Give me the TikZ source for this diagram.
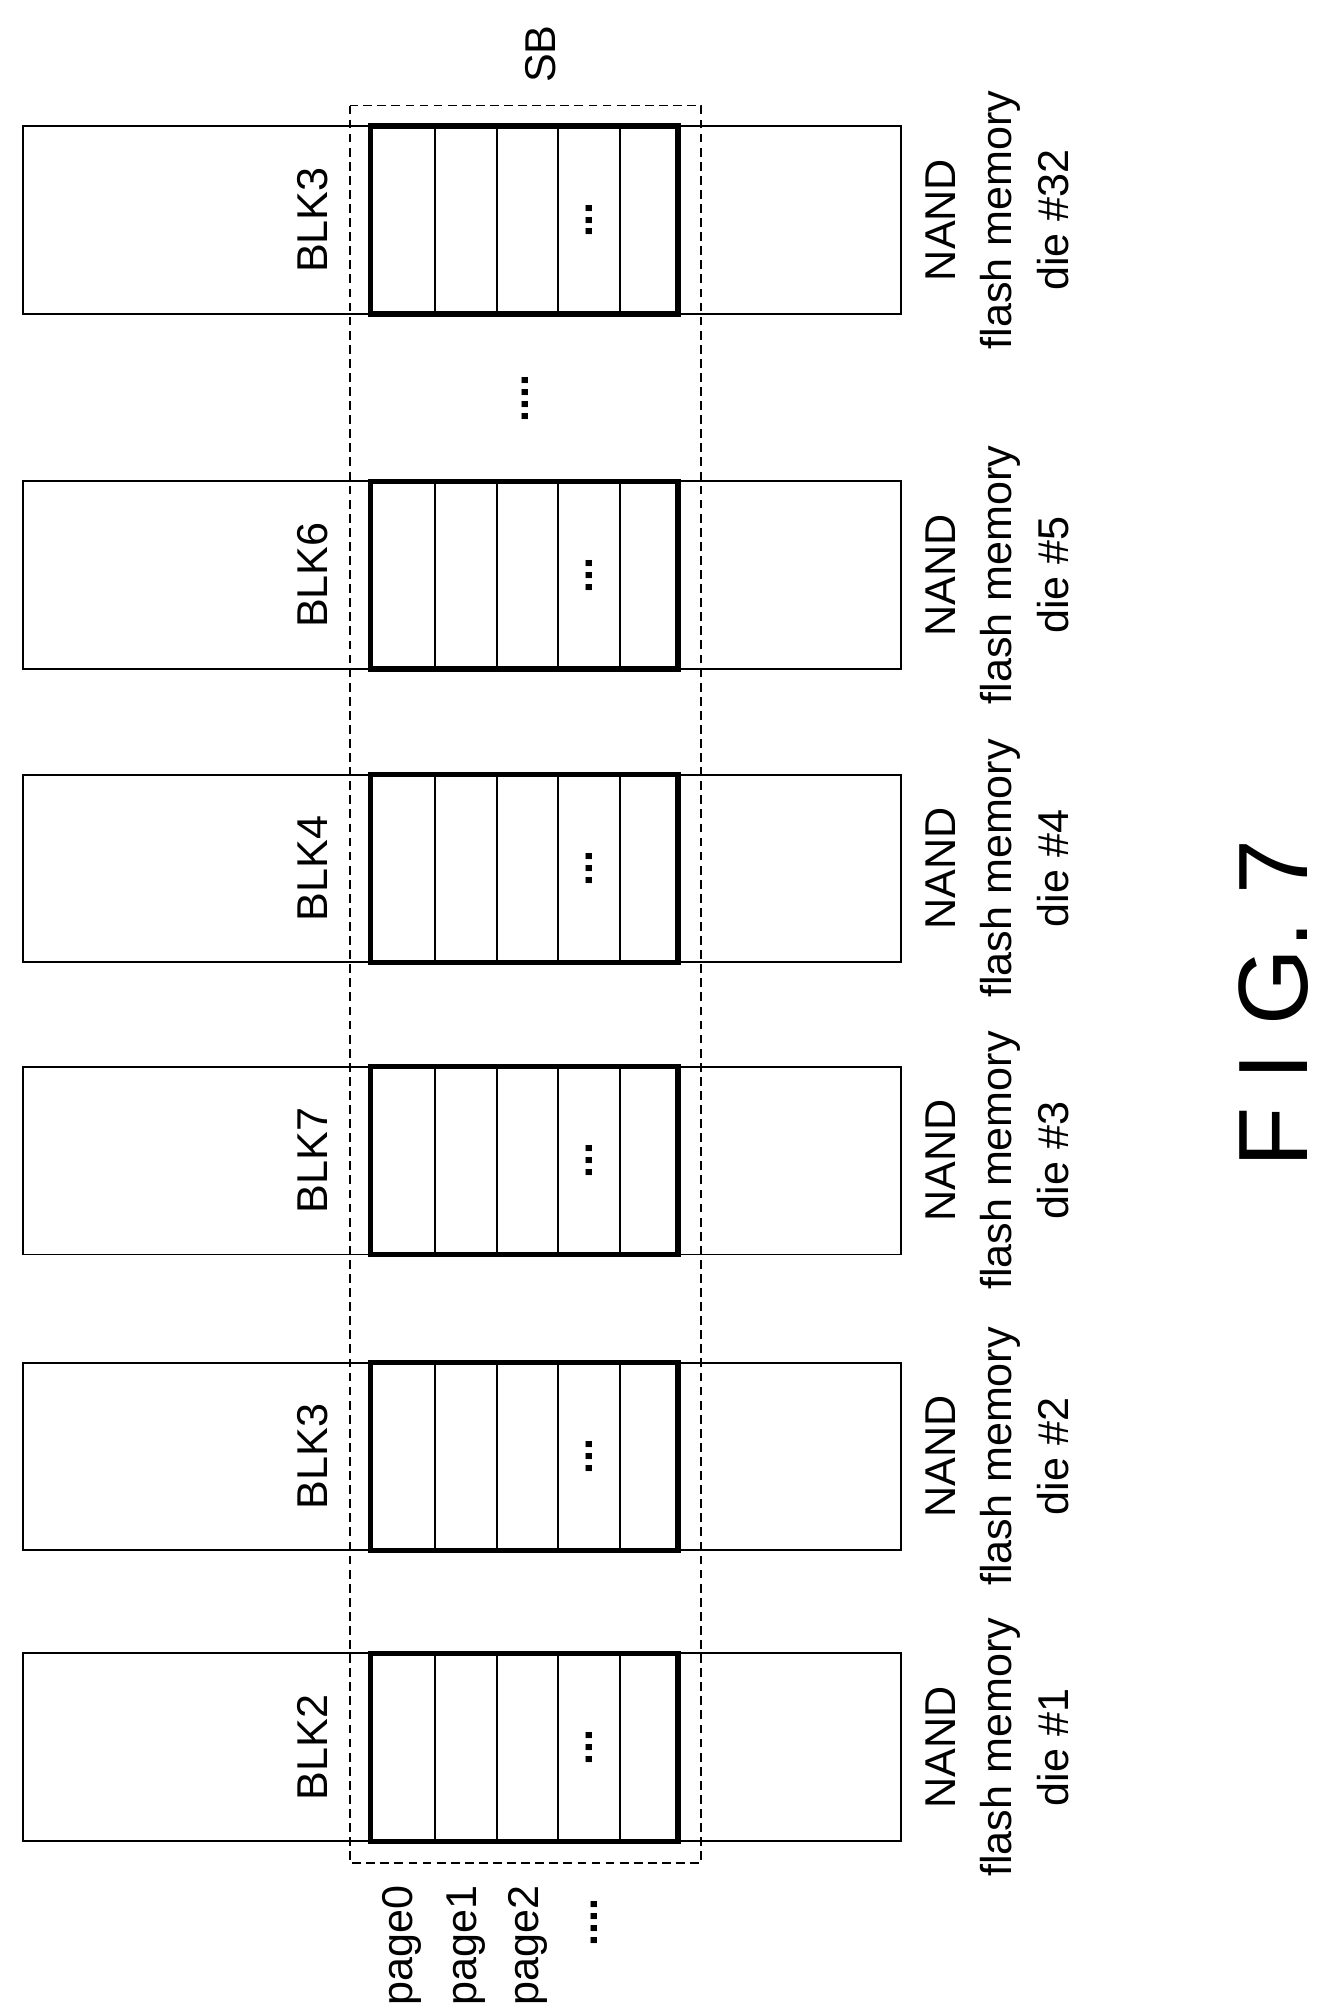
\documentclass[tikz,border=0pt]{standalone}
\usepackage{fontspec}
\setmainfont{Liberation Sans}
\begin{document}
\begin{tikzpicture}[x=0.0257cm,y=-0.0257cm]
\tikzstyle{every node}+=[inner sep=0pt,font=\fontsize{24.5}{32}\selectfont]
\tikzstyle{rot}=[rotate=90,align=center]
\useasboundingbox (0,0) rectangle (1030,1563);
% dies
\foreach \y/\blk/\die in {1358/BLK2/1,1132/BLK3/2,902/BLK7/3,675/BLK4/4,447/BLK6/5,171/BLK3/32}{
\draw [black,line width=1.1pt] (18,\y-73) rectangle (700,\y+73);
\draw [black,line width=3pt] (288,\y-73) rectangle (527,\y+73);
\foreach \x in {338,386,434,482}
  \draw [black,line width=1.1pt] (\x,\y-73) -- (\x,\y+73);
\node [rot] (blk\die) at (243,\y) {\blk};
\node [rot] (dots\die) at (458,\y) {\textbf{...}};
\node [rot] (name\die) at (775,\y) {NAND\\flash memory\\die \#\die};
}
% super block
\draw [black,dash pattern=on 5pt off 3pt,line width=1.1pt] (272,82) rectangle (545,1448);
\node [rot] (sb) at (420,42) {SB};
\node [rot] (gap) at (408,310) {\textbf{....}};
% pages
\node [rot,anchor=east] (p0) at (312,1465) {page0};
\node [rot,anchor=east] (p1) at (362,1465) {page1};
\node [rot,anchor=east] (p2) at (410,1465) {page2};
\node [rot,anchor=east] (p3) at (462,1475) {\textbf{....}};
\node [rot,font=\fontsize{56}{60}\selectfont] (fig) at (990,780) {F I G. 7};
\end{tikzpicture}
\end{document}
